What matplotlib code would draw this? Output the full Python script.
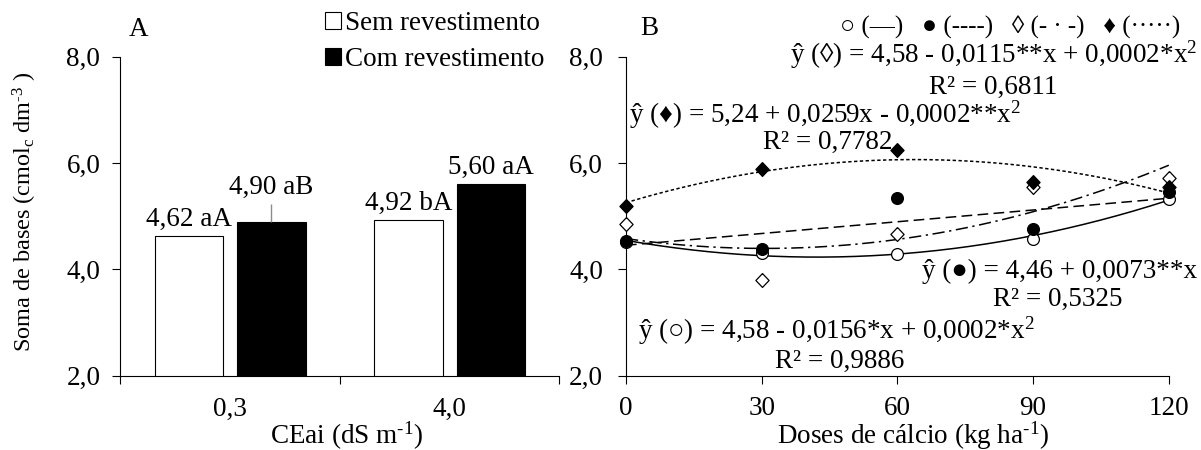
import numpy as np
import matplotlib
matplotlib.use('Agg')
import matplotlib.pyplot as plt
from matplotlib.patches import Patch

plt.rcParams['font.family'] = ['Liberation Serif', 'DejaVu Serif']
plt.rcParams['mathtext.fontset'] = 'custom'
plt.rcParams['mathtext.rm'] = 'Liberation Serif'
plt.rcParams['mathtext.it'] = 'Liberation Serif:italic'
plt.rcParams['font.size'] = 19.5

# Panel A data
cea = ['0,3', '4,0']
sem = [4.62, 4.92]
com = [4.90, 5.60]
sem_lab = ['4,62 aA', '4,92 bA']
com_lab = ['4,90 aB', '5,60 aA']
com_err = [0.33, 0.0]

# Panel B data
doses = [0, 30, 60, 90, 120]
open_circle = [4.52, 4.31, 4.29, 4.58, 5.33]
filled_circle = [4.53, 4.39, 5.35, 4.76, 5.45]
open_diamond = [4.86, 3.80, 4.66, 5.55, 5.71]
filled_diamond = [5.20, 5.89, 6.24, 5.64, 5.55]

fig = plt.figure(figsize=(12.01, 4.5), dpi=100)

# ---- Panel A ----
ax = fig.add_axes([0.1003, 0.165, 0.3655, 0.709])
x = np.arange(len(cea))
w = 0.312
off = 0.188
ax.bar(x - off, sem, w, color='white', edgecolor='black', linewidth=0.8)
ax.bar(x + off, com, w, color='black', edgecolor='black', linewidth=0.8)
ax.errorbar(x + off, com, yerr=[np.zeros(2), com_err], fmt='none',
            ecolor='#8c8c8c', elinewidth=1, capsize=0)
for i in range(len(cea)):
    ax.annotate(sem_lab[i], (x[i] - off, sem[i]), xytext=(0, 3),
                textcoords='offset points', ha='center', va='bottom')
    ax.annotate(com_lab[i], (x[i] + off, com[i] + com_err[i]), xytext=(0, 3),
                textcoords='offset points', ha='center', va='bottom')
ax.set_xlim(-0.5, 1.5)
ax.set_ylim(2, 8)
ax.set_yticks([2, 4, 6, 8])
ax.set_yticklabels(['2,0', '4,0', '6,0', '8,0'])
ax.set_xticks([-0.5, 0.5, 1.5])
ax.set_xticklabels([])
ax.set_xticks(x, minor=True)
ax.set_xticklabels(cea, minor=True)
ax.tick_params(axis='x', which='minor', length=0, pad=15)
ax.tick_params(axis='both', which='major', length=5.5, width=0.8)
ax.tick_params(axis='y', pad=9)
ax.spines['top'].set_visible(False)
ax.spines['right'].set_visible(False)
ax.set_xlabel('CEai (dS m$^{\\text{-}1}$)')
ax.xaxis.set_label_coords(0.516, -0.138)
fig.text(25 / 1201, 1 - 212 / 450, 'Soma de bases (cmol$_\\mathrm{c}$ dm$^{\\text{-}3}$ )',
         rotation=90, ha='center', va='center', fontsize=17.5)
fig.text(0.115, 0.935, 'A', ha='center', va='center')
handles = [Patch(facecolor='white', edgecolor='black', linewidth=0.8),
           Patch(facecolor='black', edgecolor='black', linewidth=0.8)]
fig.legend(handles, ['Sem revestimento', 'Com revestimento'],
           loc='upper left', bbox_to_anchor=(0.268, 0.982), frameon=False,
           handlelength=0.6, handleheight=0.6, handletextpad=0.15,
           labelspacing=0.41, borderpad=0.1, borderaxespad=0)

# ---- Panel B ----
bx = fig.add_axes([0.5212, 0.165, 0.452, 0.709])
xs = np.linspace(0, 120, 200)
diamond = [(0, 1), (0.95, 0), (0, -1), (-0.95, 0), (0, 1)]
series = [
    (open_circle, 'o', 'white', '-', 2),
    (filled_circle, 'o', 'black', (0, (7, 3.5)), 1),
    (open_diamond, diamond, 'white', (0, (8, 3, 1.5, 3)), 2),
    (filled_diamond, diamond, 'black', (0, (2.2, 1.6)), 2),
]
for vals, mk, fc, ls, deg in series:
    coef = np.polyfit(doses, vals, deg)
    bx.plot(xs, np.polyval(coef, xs), color='black', linestyle=ls, linewidth=1.1)
    bx.plot(doses, vals, linestyle='none', marker=mk, markersize=10 if mk is diamond else 8.5,
            markerfacecolor=fc, markeredgecolor='black', markeredgewidth=0.9,
            clip_on=False, zorder=3)
bx.set_xlim(0, 120)
bx.set_ylim(2, 8)
bx.set_xticks(doses)
bx.set_yticks([2, 4, 6, 8])
bx.set_yticklabels(['2,0', '4,0', '6,0', '8,0'])
bx.tick_params(axis='both', length=5.5, width=0.8)
bx.tick_params(axis='x', pad=9)
bx.tick_params(axis='y', pad=11)
bx.spines['top'].set_visible(False)
bx.spines['right'].set_visible(False)
bx.set_xlabel('Doses de cálcio (kg ha$^{\\text{-}1}$)')
bx.xaxis.set_label_coords(0.529, -0.138)

fig.text(0.541, 0.937, 'B', ha='center', va='center')
fig.text(0.983, 0.938, '○ (—)   ● (----)   ◊ (- · -)   ♦ (·····)',
         ha='right', va='center', fontsize=18)
fig.text(0.997, 0.878, 'ŷ (◊) = 4,58 - 0,0115**x + 0,0002*x$^2$', ha='right', va='center')
fig.text(0.827, 0.806, 'R² = 0,6811', ha='center', va='center')
fig.text(0.524, 0.744, 'ŷ (♦) = 5,24 + 0,0259x - 0,0002**x$^2$', ha='left', va='center')
fig.text(0.689, 0.684, 'R² = 0,7782', ha='center', va='center')
fig.text(0.997, 0.396, 'ŷ (●) = 4,46 + 0,0073**x', ha='right', va='center')
fig.text(0.881, 0.334, 'R² = 0,5325', ha='center', va='center')
fig.text(0.531, 0.264, 'ŷ (○) = 4,58 - 0,0156*x + 0,0002*x$^2$', ha='left', va='center')
fig.text(0.699, 0.196, 'R² = 0,9886', ha='center', va='center')

fig.savefig('out.png', dpi=100)
